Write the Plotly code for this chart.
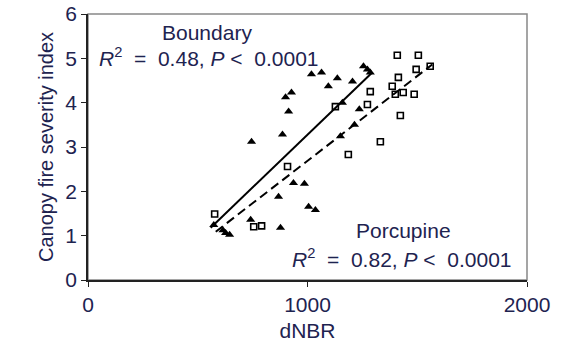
import plotly.graph_objects as go

# Boundary fire (filled triangles)
boundary_dnbr = [573, 615, 627, 645, 741, 745, 868, 877, 886, 900, 914, 927, 936, 986,
                 1005, 1036, 1018, 1064, 1095, 1136, 1150, 1159, 1205, 1214, 1236, 1255, 1273, 1286]
boundary_cfsi = [1.24, 1.12, 1.06, 1.02, 1.36, 3.12, 1.88, 1.18, 3.28, 4.12, 3.80, 4.23, 2.19, 2.17,
                 1.65, 1.58, 4.64, 4.68, 4.37, 4.55, 3.24, 4.00, 4.48, 3.50, 3.85, 4.82, 4.75, 4.68]

# Porcupine fire (open squares)
porcupine_dnbr = [577, 755, 791, 909, 1127, 1186, 1273, 1286, 1332, 1386, 1400, 1409, 1414,
                  1423, 1436, 1486, 1495, 1505, 1559]
porcupine_cfsi = [1.49, 1.20, 1.22, 2.56, 3.91, 2.83, 3.96, 4.25, 3.12, 4.37, 4.19, 5.07, 4.57,
                  3.71, 4.23, 4.19, 4.75, 5.07, 4.82]

# Regression lines (endpoints)
boundary_fit_x = [559, 1295]
boundary_fit_y = [1.18, 4.68]
porcupine_fit_x = [582, 1568]
porcupine_fit_y = [1.09, 4.86]

x_ticks = [0, 1000, 2000]
y_ticks = [0, 1, 2, 3, 4, 5, 6]

txt = "#1e2350"
font = "Arial, Liberation Sans, sans-serif"
fs = 21

fig = go.Figure()
fig.add_trace(go.Scatter(x=boundary_fit_x, y=boundary_fit_y, mode="lines",
                         line=dict(color="black", width=2), showlegend=False))
fig.add_trace(go.Scatter(x=porcupine_fit_x, y=porcupine_fit_y, mode="lines",
                         line=dict(color="black", width=2, dash="9px,5px"), showlegend=False))
fig.add_trace(go.Scatter(x=boundary_dnbr, y=boundary_cfsi, mode="markers",
                         marker=dict(symbol="triangle-up", size=8, color="black"), showlegend=False))
fig.add_trace(go.Scatter(x=porcupine_dnbr, y=porcupine_cfsi, mode="markers",
                         marker=dict(symbol="square-open", size=6, color="black",
                                     line=dict(width=1.6, color="black")), showlegend=False))

r2_b = "<i>R</i><sup>2</sup>&nbsp;&nbsp;=&nbsp;&nbsp;0.48, <i>P</i>&nbsp;&lt;&nbsp;&nbsp;0.0001"
r2_p = "<i>R</i><sup>2</sup>&nbsp;&nbsp;=&nbsp;&nbsp;0.82, <i>P</i>&nbsp;&lt;&nbsp;&nbsp;0.0001"

fig.add_annotation(x=541, y=5.59, xref="x", yref="y", text="Boundary", showarrow=False,
                   font=dict(family=font, size=fs, color=txt))
fig.add_annotation(x=550, y=5.03, xref="x", yref="y", text=r2_b, showarrow=False,
                   font=dict(family=font, size=fs, color=txt))
fig.add_annotation(x=1436, y=1.11, xref="x", yref="y", text="Porcupine", showarrow=False,
                   font=dict(family=font, size=fs, color=txt))
fig.add_annotation(x=1430, y=0.49, xref="x", yref="y", text=r2_p, showarrow=False,
                   font=dict(family=font, size=fs, color=txt))

fig.add_shape(type="rect", xref="paper", yref="paper", x0=0, y0=0, x1=1, y1=1,
              line=dict(color="#888888", width=1.5), layer="below")

fig.update_layout(
    width=562, height=349,
    margin=dict(l=88, r=35, t=14, b=69, autoexpand=False),
    paper_bgcolor="white", plot_bgcolor="white",
    font=dict(family=font, size=fs, color=txt),
    xaxis=dict(range=[0, 2000], tickvals=x_ticks, showgrid=False, zeroline=False,
               automargin=False,
               showline=True, linecolor="#222222", linewidth=1.5,
               ticks="outside", ticklen=5, tickcolor="#222222",
               tickfont=dict(size=fs, color=txt),
               title=dict(text="dNBR", standoff=8, font=dict(size=fs, color=txt))),
    yaxis=dict(range=[0, 6], tickvals=y_ticks, showgrid=False, zeroline=False,
               automargin=False,
               showline=True, linecolor="#222222", linewidth=1.5,
               ticks="outside", ticklen=5, tickcolor="#222222",
               tickfont=dict(size=fs, color=txt),
               title=dict(text="Canopy fire severity index", standoff=6,
                          font=dict(size=20, color=txt))),
)

fig.write_html("out.html")
